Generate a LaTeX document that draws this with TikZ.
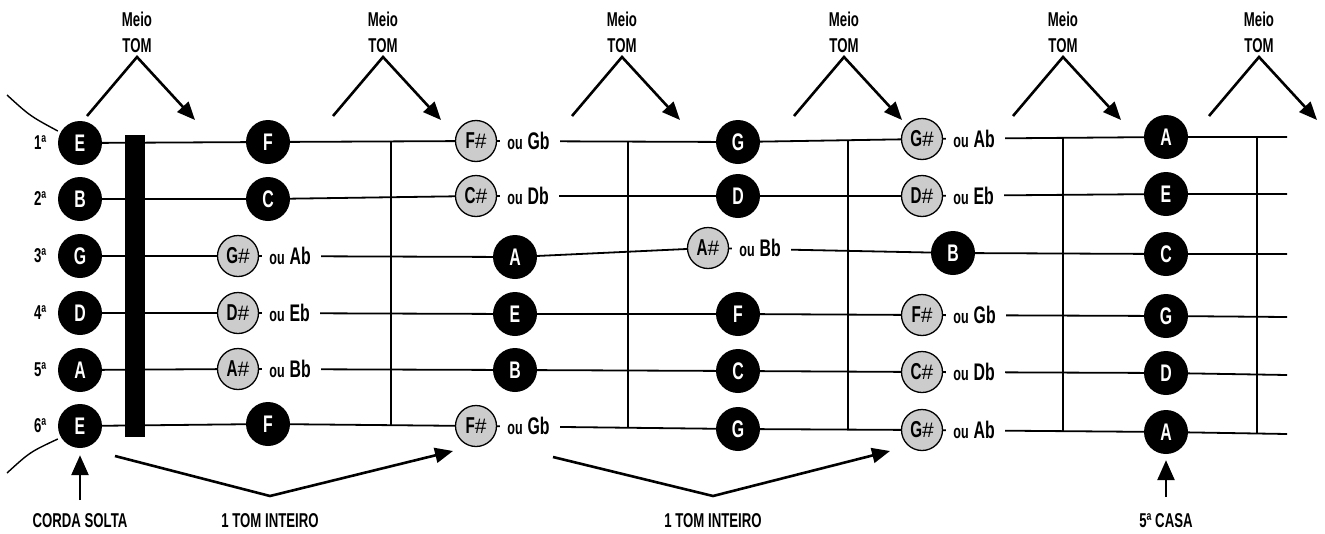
\documentclass[tikz,border=0pt]{standalone}
\usepackage{fontspec}
\setmainfont[FakeStretch=0.66]{Liberation Sans}
\newfontfamily\sharpfont{Liberation Sans}
\usetikzlibrary{arrows.meta}
\begin{document}
\begin{tikzpicture}[x=1pt,y=-1pt,
  nat/.style={circle,fill=black,minimum size=44pt,inner sep=0pt,text=white,
    font=\fontsize{24}{24}\selectfont\bfseries},
  acc/.style={circle,draw=black,line width=1.3pt,fill=black!20,minimum size=41pt,
    inner sep=0pt,font=\fontsize{23}{23}\selectfont\bfseries},
  alt/.style={anchor=west,fill=white,inner xsep=0pt,inner ysep=4pt},
  str/.style={line width=1.8pt},
  fretline/.style={line width=1.8pt},
  lbl/.style={font=\fontsize{20}{20}\selectfont\bfseries},
  half/.style={line width=2.6pt,-{Triangle[length=18pt,width=15pt]}},
  uparrow/.style={line width=2.6pt,-{Triangle[length=20pt,width=17pt]}},
]
\useasboundingbox (0,0) rectangle (1325,533);
\newcommand{\ou}[1]{\mbox{}\hspace{7pt}{\fontsize{19}{19}\selectfont\bfseries ou}\hspace{5pt}{\fontsize{24}{24}\selectfont\bfseries #1}\hspace{10pt}\mbox{}}
\newcommand{\sh}{{\sharpfont\mdseries\fontsize{21}{21}\selectfont\#}}

% notes, string by string
\node[nat] (o1) at (80,143) {E};   \node[nat] (a1) at (268,142) {F};
\node[acc] (b1) at (476,141) {F\sh}; \node[nat] (c1) at (738,142) {G};
\node[acc] (d1) at (922,139) {G\sh}; \node[nat] (e1) at (1166,137) {A};
\coordinate (z1) at (1287,137);

\node[nat] (o2) at (80,199) {B};   \node[nat] (a2) at (268,199) {C};
\node[acc] (b2) at (476,196) {C\sh}; \node[nat] (c2) at (738,196) {D};
\node[acc] (d2) at (922,196) {D\sh}; \node[nat] (e2) at (1166,194) {E};
\coordinate (z2) at (1287,194);

\node[nat] (o3) at (80,256) {G};   \node[acc] (a3) at (238,256) {G\sh};
\node[nat] (b3) at (515,257) {A};  \node[acc] (c3) at (708,248) {A\sh};
\node[nat] (d3) at (953,253) {B};  \node[nat] (e3) at (1166,254) {C};
\coordinate (z3) at (1287,254);

\node[nat] (o4) at (80,313) {D};   \node[acc] (a4) at (238,313) {D\sh};
\node[nat] (b4) at (515,314) {E};  \node[nat] (c4) at (738,314) {F};
\node[acc] (d4) at (922,315) {F\sh}; \node[nat] (e4) at (1166,316) {G};
\coordinate (z4) at (1287,317);

\node[nat] (o5) at (80,370) {A};   \node[acc] (a5) at (238,369) {A\sh};
\node[nat] (b5) at (515,370) {B};  \node[nat] (c5) at (738,371) {C};
\node[acc] (d5) at (922,372) {C\sh}; \node[nat] (e5) at (1166,373) {D};
\coordinate (z5) at (1287,375);

\node[nat] (o6) at (80,426) {E};   \node[nat] (a6) at (268,424) {F};
\node[acc] (b6) at (476,426) {F\sh}; \node[nat] (c6) at (738,429) {G};
\node[acc] (d6) at (922,430) {G\sh}; \node[nat] (e6) at (1166,432) {A};
\coordinate (z6) at (1287,434);

% strings
\foreach \r in {1,...,6}
  \draw[str] (o\r) -- (a\r) -- (b\r) -- (c\r) -- (d\r) -- (e\r) -- (z\r);

% frets
\coordinate (f1t) at (391,142);  \coordinate (f1b) at (391,425);
\coordinate (f2t) at (628,141);  \coordinate (f2b) at (628,428);
\coordinate (f3t) at (848,140);  \coordinate (f3b) at (848,430);
\coordinate (f4t) at (1063,138); \coordinate (f4b) at (1063,431);
\coordinate (f5t) at (1257,137); \coordinate (f5b) at (1257,433);
\foreach \f in {1,...,5} \draw[fretline] (f\f t) -- (f\f b);

% nut
\fill (125,135) rectangle (145,437);

% curved ends of the strings at the head
\coordinate (ct) at (7,95);
\coordinate (cb) at (7,473);
\draw[line width=1.4pt] (ct) .. controls (30,116) .. (o1.west |- 0,131);
\draw[line width=1.4pt] (cb) .. controls (30,452) .. (o6.west |- 0,439);

% enharmonic names
\node[alt] (l1b) at ([xshift=3pt]b1.east) {\ou{Gb}};
\node[alt] (l1d) at ([xshift=3pt]d1.east) {\ou{Ab}};
\node[alt] (l2b) at ([xshift=3pt]b2.east) {\ou{Db}};
\node[alt] (l2d) at ([xshift=3pt]d2.east) {\ou{Eb}};
\node[alt] (l3a) at ([xshift=3pt]a3.east) {\ou{Ab}};
\node[alt] (l3c) at ([xshift=3pt]c3.east) {\ou{Bb}};
\node[alt] (l4a) at ([xshift=3pt]a4.east) {\ou{Eb}};
\node[alt] (l4d) at ([xshift=3pt]d4.east) {\ou{Gb}};
\node[alt] (l5a) at ([xshift=3pt]a5.east) {\ou{Bb}};
\node[alt] (l5d) at ([xshift=3pt]d5.east) {\ou{Db}};
\node[alt] (l6b) at ([xshift=3pt]b6.east) {\ou{Gb}};
\node[alt] (l6d) at ([xshift=3pt]d6.east) {\ou{Ab}};

% string numbers
\foreach \r/\t in {1/1,2/2,3/3,4/4,5/5,6/6}
  \node[lbl,anchor=east] (n\r) at ([xshift=-8pt]o\r.west) {\t ª};

% half-step markers along the top
\foreach \i/\x in {1/137,2/383,3/622,4/844,5/1063,6/1259}{
  \node[lbl] (m\i) at (\x,19) {Meio};
  \node[lbl] (t\i) at (\x,46) {TOM};
  \coordinate (hl\i) at (\x-50,116);
  \coordinate (hp\i) at (\x,57);
  \coordinate (hr\i) at (\x+58,120);
  \draw[half] (hl\i) -- (hp\i) -- (hr\i);
}

% whole-step markers along the bottom
\node[lbl] (w1) at (270,521) {1 TOM INTEIRO};
\node[lbl] (w2) at (713,521) {1 TOM INTEIRO};
\coordinate (wl1) at (115,456); \coordinate (wp1) at (270,496); \coordinate (wr1) at (453,451);
\coordinate (wl2) at (553,457); \coordinate (wp2) at (713,496); \coordinate (wr2) at (890,451);
\draw[half] (wl1) -- (wp1) -- (wr1);
\draw[half] (wl2) -- (wp2) -- (wr2);

% open string and fifth fret
\node[lbl] (cs) at (80,521) {CORDA SOLTA};
\node[lbl] (qc) at (1166,521) {5ª CASA};
\draw[uparrow] (80,500) -- ([yshift=-7pt]o6.south);
\draw[uparrow] (1166,497) -- ([yshift=-6pt]e6.south);
\end{tikzpicture}
\end{document}
